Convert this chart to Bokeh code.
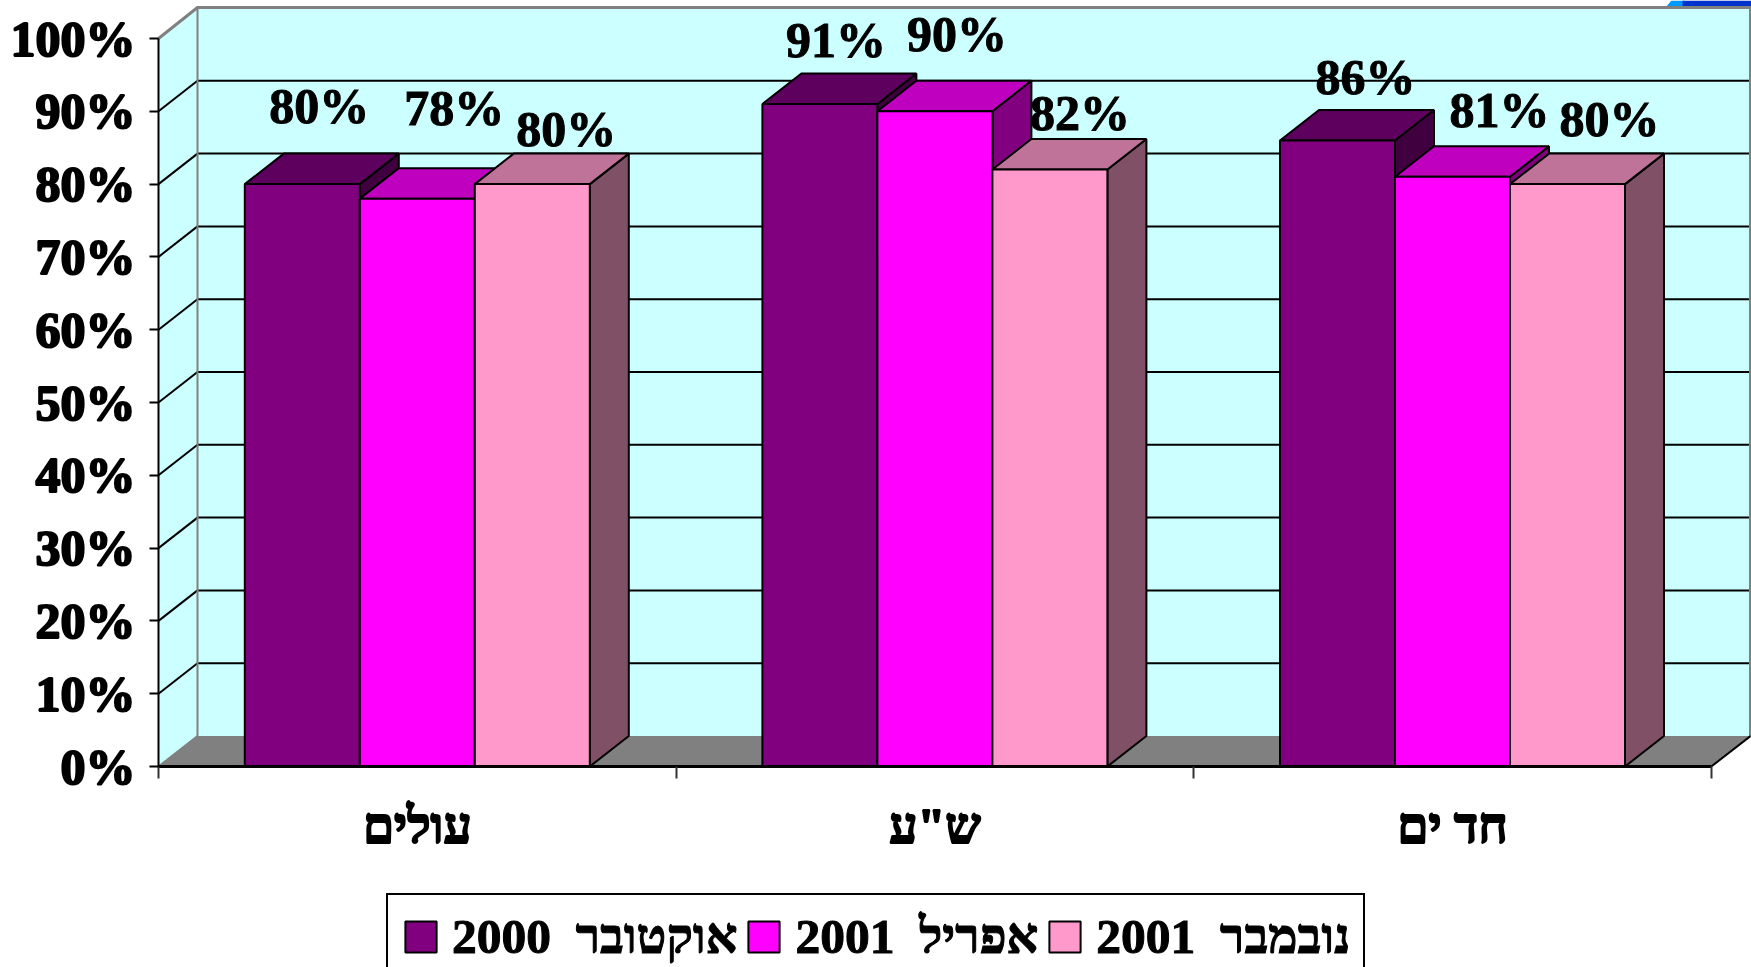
from bokeh.plotting import figure
from bokeh.models import Range1d, LinearAxis, FixedTicker, Legend, LegendItem, ColumnDataSource
from bokeh.core.properties import value
from bokeh.embed import file_html
from bokeh.resources import INLINE

categories = ["עולים", 'ש"ע', "חד ים"]
series_names = ["2000  אוקטובר", "2001  אפריל", "2001  נובמבר"]
oct_2000 = [80, 91, 86]
apr_2001 = [78, 90, 81]
nov_2001 = [80, 82, 80]
y_ticks = [0, 10, 20, 30, 40, 50, 60, 70, 80, 90, 100]

series = [oct_2000, apr_2001, nov_2001]
front = ["#800080", "#FF00FF", "#FF99CC"]
top = ["#5E005E", "#BF00BF", "#BF7399"]
side = ["#400040", "#800080", "#805066"]
FONT = "Liberation Serif"
OUTLINE = "black"

W, H = 1751, 967
LEFT, BOTTOM = 158, 201
PX_X, PX_Y = 517.6, 7.28           # pixels per group, pixels per percent
X_END = (W - LEFT) / PX_X
Y_END = (H - BOTTOM) / PX_Y
DX, DY = 39 / PX_X, 30.5 / PX_Y    # 3-D depth
BAR = 115 / PX_X
GAP = (1 - 3 * BAR) / 2
WALL_TOP = (H - BOTTOM - 7) / PX_Y
WALL_R = (W - 1 - LEFT) / PX_X

# the frame fills the whole canvas; the axes are pinned to the zero lines
p = figure(width=W, height=H, output_backend="svg", toolbar_location=None,
           x_range=Range1d(-LEFT / PX_X, X_END), y_range=Range1d(-BOTTOM / PX_Y, Y_END),
           x_axis_type=None, y_axis_type=None, min_border=0, outline_line_color=None,
           background_fill_color="white", border_fill_color="white")
p.styles = {"position": "fixed", "left": "0px", "top": "0px"}
p.grid.visible = False

# blue corner peeking above the wall
p.patches(xs=[[(1665 - LEFT) / PX_X, (1671 - LEFT) / PX_X, (1684 - LEFT) / PX_X, (1684 - LEFT) / PX_X],
              [(1682 - LEFT) / PX_X, X_END, X_END, (1682 - LEFT) / PX_X]],
          ys=[[WALL_TOP, Y_END, Y_END, WALL_TOP], [WALL_TOP, WALL_TOP, Y_END, Y_END]],
          fill_color=["#0099FF", "#0033CC"], line_color=None)

# walls and floor
p.patch([0, DX, DX, 0], [0, DY, WALL_TOP, 100], fill_color="#CCFFFF", line_color=None)
p.patch([DX, WALL_R, WALL_R, DX], [DY, DY, WALL_TOP, WALL_TOP], fill_color="#CCFFFF", line_color=None)
p.patch([0, DX, WALL_R, 3], [0, DY, DY, 0], fill_color="#808080", line_color=None)

# grid lines on both walls
inner = y_ticks[1:-1]
p.multi_line([[DX, WALL_R] for _ in inner], [[t + DY, t + DY] for t in inner], line_color="black", line_width=2)
p.multi_line([[0, DX] for _ in inner], [[t, t + DY] for t in inner], line_color="black", line_width=2)
p.line([0, DX, WALL_R, WALL_R], [100, WALL_TOP, WALL_TOP, DY], line_color="#808080", line_width=3)
p.line([DX, DX], [DY, WALL_TOP], line_color="#808080", line_width=2)
p.line([0, DX], [0, DY], line_color="#808080", line_width=2)
p.line([3, WALL_R], [0, DY], line_color="black", line_width=2)

# bars: side, top then front, left to right
xs, ys, fills = [], [], []
legend_index = {}
for g in range(len(categories)):
    for s in range(len(series)):
        v = series[s][g]
        x0 = g + GAP + s * BAR
        x1 = x0 + BAR
        xs.append([x1, x1 + DX, x1 + DX, x1]); ys.append([0, DY, v + DY, v]); fills.append(side[s])
        xs.append([x0, x0 + DX, x1 + DX, x1]); ys.append([v, v + DY, v + DY, v]); fills.append(top[s])
        xs.append([x0, x1, x1, x0]); ys.append([0, 0, v, v]); fills.append(front[s])
        legend_index.setdefault(s, len(xs) - 1)
bars = p.patches("xs", "ys", fill_color="fills", line_color="black", line_width=2,
                 source=ColumnDataSource(dict(xs=xs, ys=ys, fills=fills)))

# value labels (hand-placed in the original, so each has its own pixel offset)
label_dx = [17, 37, 34, 16, 22, 30, 28, 47, 42]
label_dy = [-78, -91, -55, -64, -77, -57, -63, -67, -65]
lx, ly, lt = [], [], []
for g in range(len(categories)):
    for s in range(len(series)):
        lx.append(g + GAP + (s + 0.5) * BAR)
        ly.append(series[s][g])
        lt.append(f"{series[s][g]}%")
p.text(lx, ly, text=lt, x_offset=label_dx, y_offset=label_dy, text_align="center",
       text_baseline="middle", text_font=value(FONT), text_font_style="bold",
       text_font_size="50px", text_color="black", text_outline_color=OUTLINE)

# axes
ya = LinearAxis(ticker=FixedTicker(ticks=y_ticks), bounds=(0, 100), fixed_location=0,
                major_label_overrides={t: f"{t}%" for t in y_ticks})
ya.major_label_text_font = FONT
ya.major_label_text_font_style = "bold"
ya.major_label_text_font_size = "50px"
ya.major_label_text_color = "black"
ya.major_label_text_outline_color = OUTLINE
ya.major_label_standoff = 14
ya.major_tick_out = 9
ya.major_tick_in = 0
ya.minor_tick_line_color = None
ya.major_tick_line_width = 2
ya.axis_line_width = 2
ya.axis_line_color = "black"
ya.major_tick_line_color = "black"
p.add_layout(ya, "left")

xa = LinearAxis(ticker=FixedTicker(ticks=[i + 0.5 for i in range(len(categories))],
                                   minor_ticks=list(range(len(categories) + 1))),
                bounds=(0, 3), fixed_location=0,
                major_label_overrides={i + 0.5: c for i, c in enumerate(categories)})
xa.major_label_text_font = FONT
xa.major_label_text_font_style = "bold"
xa.major_label_text_font_size = "50px"
xa.major_label_text_color = "black"
xa.major_label_text_outline_color = OUTLINE
xa.major_label_standoff = 19
xa.major_tick_out = 0
xa.major_tick_in = 0
xa.minor_tick_out = 12
xa.minor_tick_in = 0
xa.minor_tick_line_width = 2
xa.minor_tick_line_color = "#333333"
xa.axis_line_width = 3
xa.axis_line_color = "black"
p.add_layout(xa, "below")

legend = Legend(items=[LegendItem(label=value(series_names[s]), renderers=[bars], index=legend_index[s])
                       for s in range(3)],
                orientation="horizontal", location=(386, -13), margin=0, padding=13, spacing=7,
                glyph_width=39, glyph_height=39, label_standoff=12, label_height=50,
                label_text_font=FONT, label_text_font_style="bold", label_text_font_size="49.5px",
                label_text_color="black", label_text_outline_color=OUTLINE,
                border_line_color="black", border_line_width=2, border_line_alpha=1,
                background_fill_color="white", background_fill_alpha=1)
p.add_layout(legend, "center")

open("out.html", "w").write(file_html(p, INLINE))
